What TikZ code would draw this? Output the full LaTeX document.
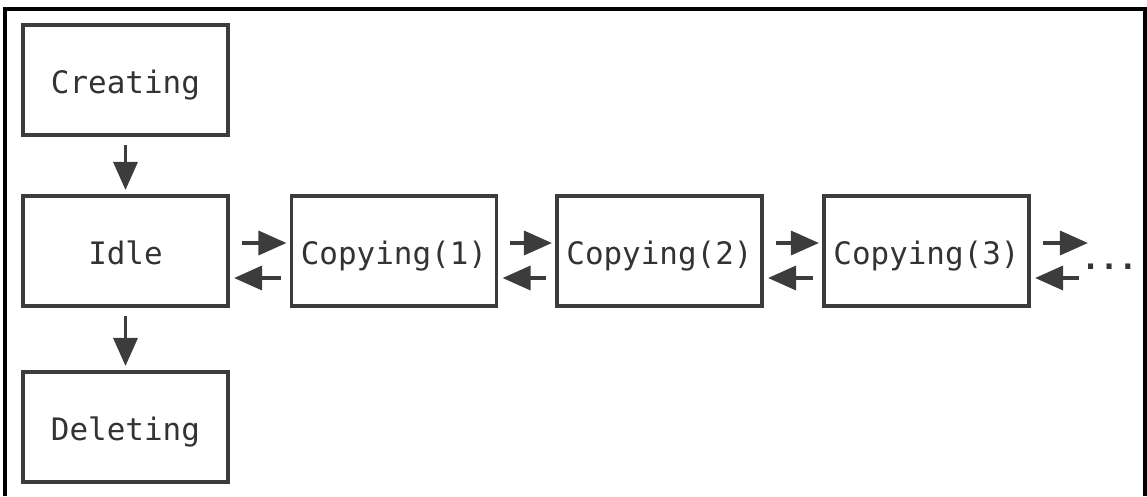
\documentclass[tikz,border=0pt]{standalone}
\usepackage{fontspec}
\setmonofont{DejaVu Sans Mono}
\usetikzlibrary{positioning}
\usetikzlibrary{arrows,arrows.meta}
\usetikzlibrary{calc}

\definecolor{boxgray}{HTML}{3C3C3C}
\definecolor{textgray}{HTML}{333333}

\begin{document}
\begin{tikzpicture}[x=0.025cm, y=-0.025cm, >={Triangle[length=20pt, width=17pt]},
    state/.style={draw=boxgray, line width=2.8pt, minimum width=5.125cm, minimum height=2.75cm,
                  inner sep=0pt, text height=19pt, text depth=0pt, text=textgray,
                  font=\ttfamily\fontsize{22}{26}\selectfont},
    pfeil/.style={->, draw=boxgray, line width=2.8pt}]

    \useasboundingbox (0,0) rectangle (1147,496);
    % Rahmen
    \draw[black, line width=2.2pt] (5,496) -- (5,9) -- (1145,9) -- (1145,496);

    \node[state] (creating) at (125.5,80) {Creating};
    \node[state] (idle) at (125.5,251) {Idle};
    \node[state] (deleting) at (125.5,427) {Deleting};
    \node[state] (copy1) at (394,251) {Copying(1)};
    \node[state] (copy2) at (659.5,251) {Copying(2)};
    \node[state] (copy3) at (926.5,251) {Copying(3)};

    \node[text=textgray, font=\ttfamily\bfseries\fontsize{22}{26}\selectfont, anchor=base west, inner sep=0pt] (more) at (1081,269) {...};

    % vertikal
    \draw[pfeil] ([shift={(0,8)}]creating.south) -- ([shift={(0,-4)}]idle.north);
    \draw[pfeil] ([shift={(0,8)}]idle.south) -- ([shift={(0,-4)}]deleting.north);

    % hin und zurueck
    \foreach \a/\b in {idle/copy1, copy1/copy2, copy2/copy3}{
        \draw[pfeil] ([shift={(12,-8)}]\a.east) -- ([shift={(-3,-8)}]\b.west);
        \draw[pfeil] ([shift={(-9,27)}]\b.west) -- ([shift={(4,27)}]\a.east);
    }

    \coordinate (outend) at (1088,243);
    \coordinate (instart) at (1079,278);
    \draw[pfeil] ([shift={(12,-8)}]copy3.east) -- (outend);
    \draw[pfeil] (instart) -- ([shift={(4,27)}]copy3.east);
\end{tikzpicture}
\end{document}
